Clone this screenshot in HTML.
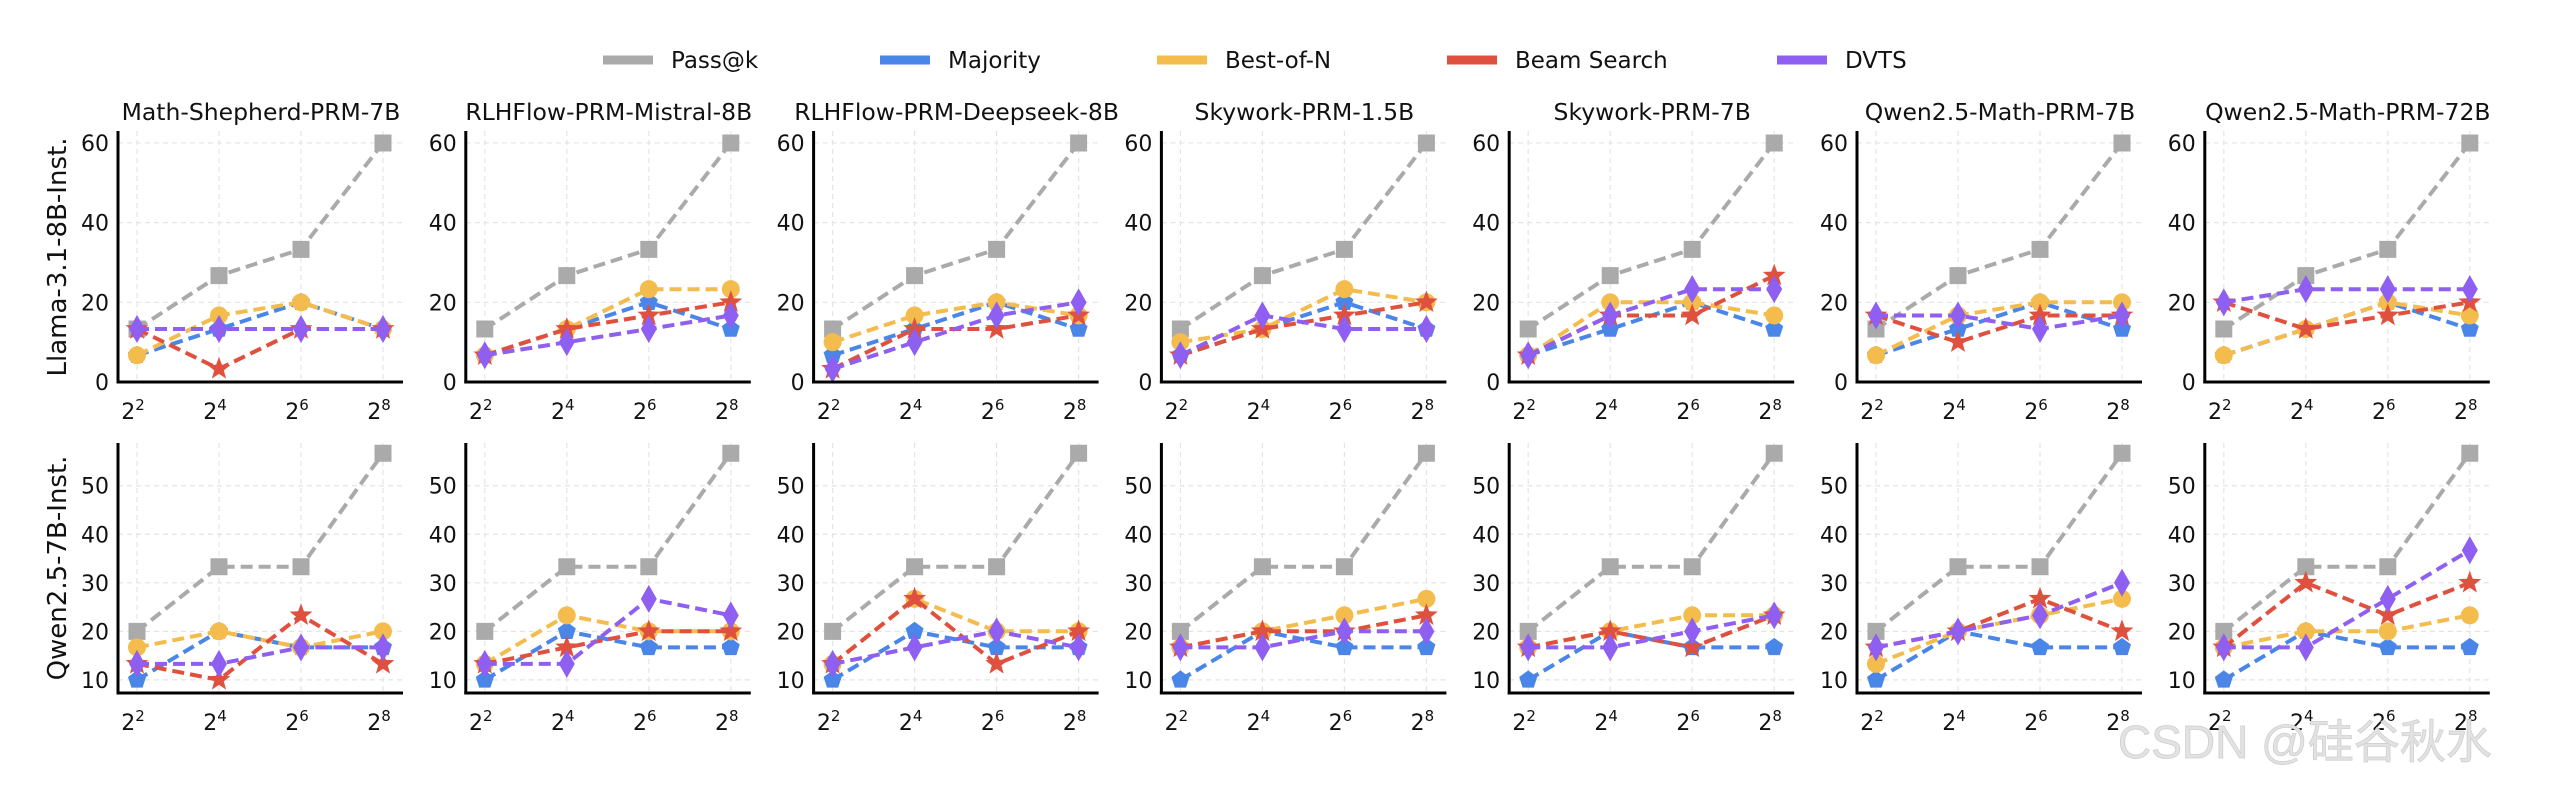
<!DOCTYPE html>
<html><head><meta charset="utf-8">
<style>
html,body{margin:0;padding:0;background:#fff;}
svg{display:block;font-family:"DejaVu Sans","Liberation Sans","Noto Sans CJK SC",sans-serif;}
</style></head>
<body>
<svg id="chart" width="2556" height="788" viewBox="0 0 2556 788" xmlns="http://www.w3.org/2000/svg">
<g id="legend"></g>
<g id="panels"></g>
<text x="0" y="0" transform="translate(66,257) rotate(-90)" text-anchor="middle" font-size="26" fill="#111">Llama-3.1-8B-Inst.</text>
<text x="0" y="0" transform="translate(66,568) rotate(-90)" text-anchor="middle" font-size="26" fill="#111">Qwen2.5-7B-Inst.</text>
<text x="2118" y="758" font-size="46" fill="#e2e2e2" stroke="#cfcfcf" stroke-width="0.8" font-family="'Liberation Sans','Noto Sans CJK SC',sans-serif">CSDN @硅谷秋水</text>
</svg>
<script>
const models = ["Math-Shepherd-PRM-7B","RLHFlow-PRM-Mistral-8B","RLHFlow-PRM-Deepseek-8B","Skywork-PRM-1.5B","Skywork-PRM-7B","Qwen2.5-Math-PRM-7B","Qwen2.5-Math-PRM-72B"];
const methods = ["Pass@k","Majority","Best-of-N","Beam Search","DVTS"];
const xExps = [2,4,6,8];
const row1Ticks = [0,20,40,60];
const row2Ticks = [10,20,30,40,50];
// Row 1: Llama-3.1-8B-Inst.
const llamaPass = [13.3,26.7,33.3,60];
const llamaMajority = [[6.7,13.3,20,13.3],[6.7,13.3,20,13.3],[6.7,13.3,20,13.3],[6.7,13.3,20,13.3],[6.7,13.3,20,13.3],[6.7,13.3,20,13.3],[6.7,13.3,20,13.3]];
const llamaBestN = [[6.7,16.7,20,13.3],[6.7,13.3,23.3,23.3],[10,16.7,20,16.7],[10,13.3,23.3,20],[6.7,20,20,16.7],[6.7,16.7,20,20],[6.7,13.3,20,16.7]];
const llamaBeam = [[13.3,3.3,13.3,13.3],[6.7,13.3,16.7,20],[3.3,13.3,13.3,16.7],[6.7,13.3,16.7,20],[6.7,16.7,16.7,26.7],[16.7,10,16.7,16.7],[20,13.3,16.7,20]];
const llamaDVTS = [[13.3,13.3,13.3,13.3],[6.7,10,13.3,16.7],[3.3,10,16.7,20],[6.7,16.7,13.3,13.3],[6.7,16.7,23.3,23.3],[16.7,16.7,13.3,16.7],[20,23.3,23.3,23.3]];
// Row 2: Qwen2.5-7B-Inst.
const qwenPass = [20,33.3,33.3,56.7];
const qwenMajority = [[10,20,16.7,16.7],[10,20,16.7,16.7],[10,20,16.7,16.7],[10,20,16.7,16.7],[10,20,16.7,16.7],[10,20,16.7,16.7],[10,20,16.7,16.7]];
const qwenBestN = [[16.7,20,16.7,20],[13.3,23.3,20,20],[13.3,26.7,20,20],[16.7,20,23.3,26.7],[16.7,20,23.3,23.3],[13.3,20,23.3,26.7],[16.7,20,20,23.3]];
const qwenBeam = [[13.3,10,23.3,13.3],[13.3,16.7,20,20],[13.3,26.7,13.3,20],[16.7,20,20,23.3],[16.7,20,16.7,23.3],[16.7,20,26.7,20],[16.7,30,23.3,30]];
const qwenDVTS = [[13.3,13.3,16.7,16.7],[13.3,13.3,26.7,23.3],[13.3,16.7,20,16.7],[16.7,16.7,20,20],[16.7,16.7,20,23.3],[16.7,20,23.3,30],[16.7,16.7,26.7,36.7]];

const colors = ["#aaaaaa","#4a86e8","#f4bc4c","#e0503f","#8e5ff0"];
const markers = ["square","pentagon","circle","star","diamond"];
const NS = "http://www.w3.org/2000/svg";
function mk(tag, attrs, parent){const e=document.createElementNS(NS,tag);for(const k in attrs)e.setAttribute(k,attrs[k]);if(parent)parent.appendChild(e);return e;}

function markerPath(type,cx,cy){
  if(type==="square"){const s=8.5;return `M${cx-s},${cy-s}H${cx+s}V${cy+s}H${cx-s}Z`;}
  if(type==="circle"){const r=9;return `M${cx-r},${cy}a${r},${r} 0 1,0 ${2*r},0a${r},${r} 0 1,0 ${-2*r},0Z`;}
  if(type==="diamond"){return `M${cx},${cy-14}L${cx+8},${cy}L${cx},${cy+14}L${cx-8},${cy}Z`;}
  let pts=[];
  if(type==="pentagon"){for(let i=0;i<5;i++){const a=-Math.PI/2+i*2*Math.PI/5;pts.push([cx+9.5*Math.cos(a),cy+9.5*Math.sin(a)]);}}
  if(type==="star"){for(let i=0;i<10;i++){const a=-Math.PI/2+i*Math.PI/5;const r=i%2?5:12;pts.push([cx+r*Math.cos(a),cy+r*Math.sin(a)]);}}
  return "M"+pts.map(p=>p[0].toFixed(1)+","+p[1].toFixed(1)).join("L")+"Z";
}

// legend
const lg=document.getElementById("legend");
const legX=[603,880,1157,1447,1777];
methods.forEach((m,i)=>{
  const g=mk("g",{},lg);
  
  
  mk("line",{x1:legX[i],y1:60,x2:legX[i]+50,y2:60,stroke:colors[i],"stroke-width":9},g);
  const t=mk("text",{x:legX[i]+68,y:68,"font-size":23,fill:"#111"},g);t.textContent=m;
});

const panelsG=document.getElementById("panels");
const rows=[
  {name:"llama",pass:llamaPass,maj:llamaMajority,best:llamaBestN,beam:llamaBeam,dvts:llamaDVTS,ticks:row1Ticks,top:131,bottom:382,ymin:0,ymax:63,xlab:410},
  {name:"qwen",pass:qwenPass,maj:qwenMajority,best:qwenBestN,beam:qwenBeam,dvts:qwenDVTS,ticks:row2Ticks,top:443,bottom:693,ymin:7.3,ymax:58.8,xlab:721}
];
rows.forEach((row,ri)=>{
  models.forEach((model,pi)=>{
    const left=118+347.8*pi, right=left+285;
    const g=mk("g",{},panelsG);
    
    
    const xS=i=>left+19+82*i;
    const yS=v=>row.bottom-(v-row.ymin)/(row.ymax-row.ymin)*(row.bottom-row.top);
    xExps.forEach((e,i)=>mk("line",{x1:xS(i),x2:xS(i),y1:row.top,y2:row.bottom,stroke:"#e4e4e4","stroke-width":1.2,"stroke-dasharray":"5,4"},g));
    row.ticks.forEach(v=>mk("line",{x1:left,x2:right,y1:yS(v),y2:yS(v),stroke:"#e4e4e4","stroke-width":1.2,"stroke-dasharray":"5,4"},g));
    if(ri===0){const t=mk("text",{x:left+143,y:120,"text-anchor":"middle","font-size":23.5,fill:"#111"},g);t.textContent=model;}
    row.ticks.forEach(v=>{const t=mk("text",{x:left-9,y:yS(v)+8,"text-anchor":"end","font-size":22,fill:"#111"},g);t.textContent=v;});
    xExps.forEach((e,i)=>{const t=mk("text",{x:xS(i)-4,y:row.xlab+9,"text-anchor":"middle","font-size":22,fill:"#111"},g);t.textContent="2";const s=mk("tspan",{dy:-9,"font-size":15},t);s.textContent=e;});
    const series=[row.pass,row.maj[pi],row.best[pi],row.beam[pi],row.dvts[pi]];
    series.forEach((vals,si)=>{
      const sg=mk("g",{},g);
      
      
      const d=vals.map((v,i)=>(i?"L":"M")+xS(i).toFixed(1)+","+yS(v).toFixed(1)).join("");
      mk("path",{d:d,fill:"none",stroke:colors[si],"stroke-width":4,"stroke-dasharray":"12,6"},sg);
      vals.forEach((v,i)=>{const p=mk("path",{d:markerPath(markers[si],xS(i),yS(v)),fill:colors[si]},sg);});
    });
    mk("line",{x1:left,x2:left,y1:row.top,y2:row.bottom+1.5,stroke:"#000","stroke-width":3},g);
    mk("line",{x1:left-1.5,x2:right,y1:row.bottom,y2:row.bottom,stroke:"#000","stroke-width":3},g);
  });
});
</script>
</body></html>
